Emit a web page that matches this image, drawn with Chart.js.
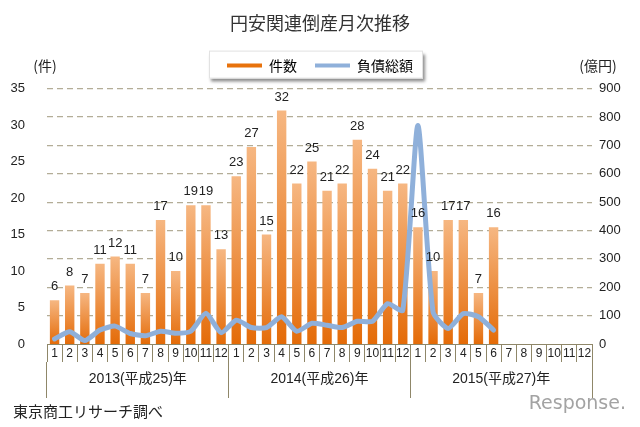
<!DOCTYPE html>
<html lang="ja">
<head>
<meta charset="UTF-8">
<title>円安関連倒産月次推移</title>
<script src="https://cdn.jsdelivr.net/npm/chart.js@4.4.0/dist/chart.umd.min.js"></script>
<style>
  html, body { margin: 0; padding: 0; background: #fff; }
  #wrap { width: 640px; height: 427px; }
</style>
</head>
<body>
<div id="wrap"><canvas id="chart" width="640" height="427"></canvas></div>
<script>
// month ticks, 2013-01 .. 2015-12
const months = ['1','2','3','4','5','6','7','8','9','10','11','12',
                '1','2','3','4','5','6','7','8','9','10','11','12',
                '1','2','3','4','5','6','7','8','9','10','11','12'];
const years = ['2013(平成25)年', '2014(平成26)年', '2015(平成27)年'];

// 件数 (left axis)
const counts = [6, 8, 7, 11, 12, 11, 7, 17, 10, 19, 19, 13,
                23, 27, 15, 32, 22, 25, 21, 22, 28, 24, 21, 22,
                16, 10, 17, 17, 7, 16, null, null, null, null, null, null];
// 負債総額 億円 (right axis)
const debts = [18, 43, 12, 49, 63, 37, 29, 45, 38, 45, 108, 40,
               84, 58, 58, 96, 45, 73, 66, 58, 80, 80, 142, 119,
               770, 113, 55, 107, 96, 49, null, null, null, null, null, null];

const ORANGE = '#e8720c';
const BLUE = '#8fb0da';
const AXIS = '#8f8769';
const GRID = '#b3ad97';
const TEXT = '#222';

Chart.defaults.font.family = '"Liberation Sans", "Noto Sans CJK JP", sans-serif';
Chart.defaults.color = TEXT;

function barFill(ctx) {
  const chart = ctx.chart;
  const area = chart.chartArea;
  if (!area || ctx.type !== 'data' || ctx.raw == null) return ORANGE;
  const top = chart.scales.y.getPixelForValue(ctx.raw);
  const g = chart.ctx.createLinearGradient(0, top, 0, area.bottom);
  g.addColorStop(0, '#f6b782');
  g.addColorStop(1, '#e46b08');
  return g;
}

// extra gap under the legend, and a white box with a drop shadow behind it
const legendBox = {
  id: 'legendBox',
  afterInit(chart) {
    const lg = chart.legend;
    if (!lg) return;
    const fit = lg.fit.bind(lg);
    lg.fit = function () { fit(); this.height += 6; };
  },
  beforeDraw(chart) {
    const hb = chart.legend && chart.legend.legendHitBoxes;
    if (!hb || !hb.length) return;
    const c = chart.ctx;
    const last = hb[hb.length - 1];
    const l = hb[0].left - 18, r = last.left + last.width + 10;
    const t = hb[0].top - 8, b = hb[0].top + hb[0].height + 6;
    c.save();
    c.shadowColor = 'rgba(0,0,0,0.45)';
    c.shadowBlur = 3;
    c.shadowOffsetX = 2;
    c.shadowOffsetY = 3;
    c.fillStyle = '#fff';
    c.fillRect(l, t, r - l, b - t);
    c.restore();
    c.strokeStyle = '#e2e2e2';
    c.lineWidth = 1;
    c.strokeRect(l + 0.5, t + 0.5, r - l - 1, b - t - 1);
  }
};

// numbers above the bars
const barValues = {
  id: 'barValues',
  afterDatasetsDraw(chart) {
    const meta = chart.getDatasetMeta(0);
    const c = chart.ctx;
    c.save();
    c.font = '13px "Liberation Sans", sans-serif';
    c.fillStyle = TEXT;
    c.textAlign = 'center';
    c.textBaseline = 'bottom';
    meta.data.forEach((bar, i) => {
      const v = counts[i];
      if (v == null) return;
      c.fillText(String(v), bar.x, bar.y - 7);
    });
    c.restore();
  }
};

// unit captions, source note, watermark
const notes = {
  id: 'notes',
  afterDraw(chart) {
    const c = chart.ctx;
    const a = chart.chartArea;
    c.save();
    c.fillStyle = TEXT;
    c.font = '14px "Noto Sans CJK JP", sans-serif';
    c.textBaseline = 'middle';
    c.textAlign = 'center';
    c.fillText('(件)', a.left - 2, 66);
    c.fillText('(億円)', a.right + 6, 66);
    c.textAlign = 'left';
    c.font = '15px "Noto Sans CJK JP", sans-serif';
    c.fillText('東京商工リサーチ調べ', 13, 411);
    c.fillStyle = '#a3a3a3';
    c.font = '19px "DejaVu Sans", sans-serif';
    c.textAlign = 'right';
    c.fillText('Response.', 626, 404);
    c.restore();
  }
};

new Chart(document.getElementById('chart'), {
  data: {
    labels: months,
    datasets: [
      {
        type: 'bar',
        label: '件数',
        data: counts,
        yAxisID: 'y',
        backgroundColor: barFill,
        barPercentage: 0.62,
        categoryPercentage: 1,
        order: 2
      },
      {
        type: 'line',
        label: '負債総額',
        data: debts,
        yAxisID: 'y2',
        borderColor: BLUE,
        borderWidth: 5,
        tension: 0.2,
        pointRadius: 0,
        borderCapStyle: 'round',
        borderJoinStyle: 'round',
        order: 1
      }
    ]
  },
  options: {
    responsive: false,
    animation: false,
    devicePixelRatio: 1,
    layout: { padding: { top: 0, left: 0, right: 0, bottom: 29 } },
    plugins: {
      title: {
        display: true,
        text: '円安関連倒産月次推移',
        color: '#333',
        font: { size: 18, weight: 'normal', family: '"Noto Sans CJK JP", sans-serif' },
        padding: { top: 12, bottom: 7 }
      },
      legend: {
        display: true,
        position: 'top',
        labels: {
          boxWidth: 35,
          boxHeight: 4,
          padding: 18,
          color: TEXT,
          font: { size: 14, family: '"Noto Sans CJK JP", sans-serif' },
          generateLabels: () => [
            { text: '件数', fillStyle: ORANGE, strokeStyle: ORANGE, lineWidth: 0, hidden: false, datasetIndex: 0 },
            { text: '負債総額', fillStyle: BLUE, strokeStyle: BLUE, lineWidth: 0, hidden: false, datasetIndex: 1 }
          ]
        }
      },
      tooltip: { enabled: false }
    },
    scales: {
      x: {
        type: 'category',
        position: 'bottom',
        offset: true,
        grid: { offset: true, drawOnChartArea: false, tickLength: 18, color: AXIS },
        border: { display: true, color: AXIS },
        ticks: { padding: -16, autoSkip: false, maxRotation: 0, font: { size: 12 }, color: TEXT },
        afterFit: s => { s.height = 18; }
      },
      x2: {
        type: 'category',
        position: 'bottom',
        labels: years,
        offset: true,
        grid: { offset: true, drawOnChartArea: false, tickLength: 36, color: AXIS },
        border: { display: false },
        ticks: { padding: -27, maxRotation: 0, font: { size: 14 }, color: TEXT },
        afterFit: s => { s.height = 36; }
      },
      y: {
        position: 'left',
        min: 0,
        max: 35,
        ticks: { stepSize: 5, padding: 14, font: { size: 13 }, color: TEXT },
        grid: { display: false },
        border: { display: false },
        afterFit: s => { s.width = 47; }
      },
      y2: {
        position: 'right',
        min: 0,
        max: 900,
        ticks: { stepSize: 100, padding: 7, font: { size: 13 }, color: TEXT },
        grid: {
          drawTicks: false,
          color: ctx => (ctx.tick && ctx.tick.value === 0 ? 'rgba(0,0,0,0)' : GRID),
          lineWidth: 1.2
        },
        border: { display: false, dash: [6, 4] },
        afterFit: s => { s.width = 48; }
      }
    }
  },
  plugins: [legendBox, barValues, notes]
});
</script>
</body>
</html>
